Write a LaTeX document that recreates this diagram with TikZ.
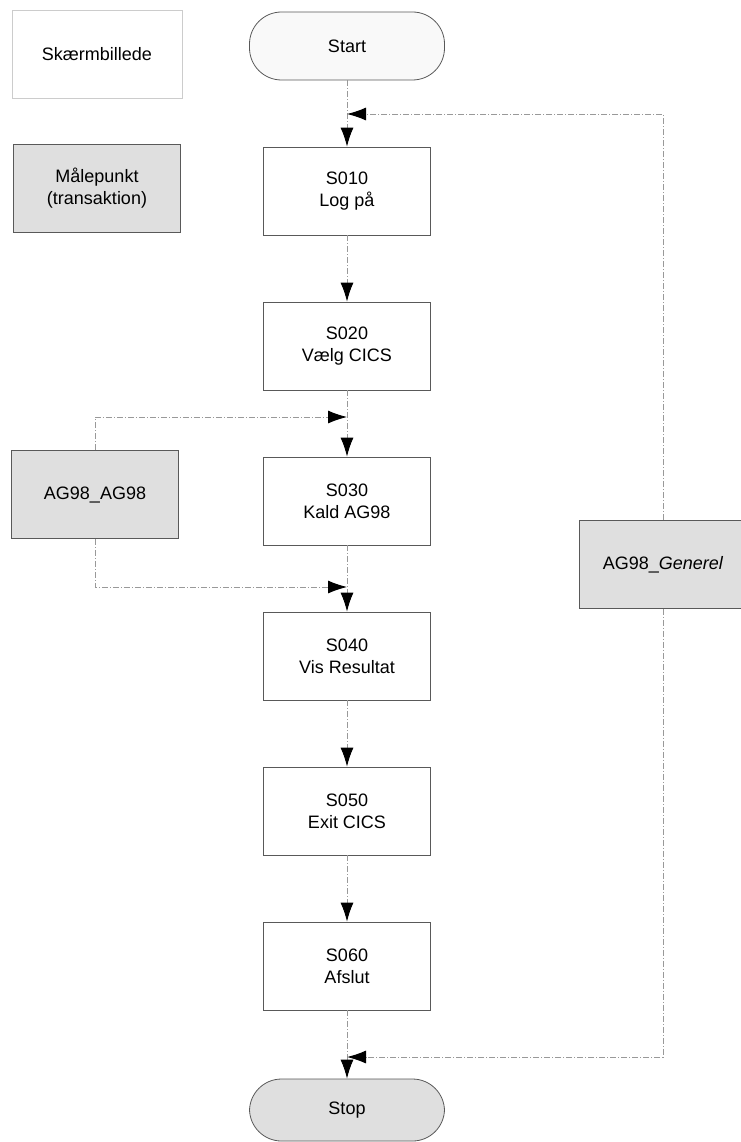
\documentclass[tikz,border=0pt]{standalone}
\usepackage{fontspec}
\setmainfont{Liberation Sans}
\usetikzlibrary{positioning,arrows.meta}

\begin{document}
\begin{tikzpicture}[x=1pt,y=1pt,node distance=155pt,on grid,
    every node/.style={font=\fontsize{18}{22}\selectfont,align=center},
    box/.style={draw=gray!70!black,line width=0.8pt,minimum width=167pt,minimum height=88pt},
    mark box/.style={box,fill=gray!25},
    terminal/.style={draw=gray!70!black,line width=0.8pt,minimum width=195pt,rounded corners=32pt},
    flow/.style={draw=gray!80,line width=0.9pt,dash pattern=on 6pt off 2pt on 1pt off 2pt,
      -{Latex[color=black,length=19pt,width=13pt]}}]
  \useasboundingbox (0,0) rectangle (740,-1142);
  \node[terminal, minimum height=68pt, fill=gray!5] (start) at (347,-46) {Start};
  \node[box, below=145pt of start] (s010) {S010\\Log på};
  \node[box, below=of s010] (s020) {S020\\Vælg CICS};
  \node[box, below=of s020] (s030) {S030\\Kald AG98};
  \node[box, below=of s030] (s040) {S040\\Vis Resultat};
  \node[box, below=of s040] (s050) {S050\\Exit CICS};
  \node[box, below=of s050] (s060) {S060\\Afslut};
  \node[terminal, minimum height=62pt, fill=gray!25, below=144pt of s060] (stop) {Stop};
  \node[box, draw=gray!40, minimum width=170pt] (screen) at (97,-54) {Skærmbillede};
  \node[mark box, below=134.5pt of screen] (meas) {Målepunkt\\(transaktion)};
  \node[mark box] (ag98) at (95,-494.5) {AG98\_AG98};
  \node[mark box] (generel) at (663,-564.5) {AG98\_\textit{Generel}};
  \coordinate (in1) at (347,-114);
  \coordinate (in3) at (347,-417);
  \coordinate (in4) at (347,-587);
  \coordinate (instop) at (347,-1057);
  \path[flow] (start) -- (s010);
  \path[flow] (s010) -- (s020);
  \path[flow] (s020) -- (s030);
  \path[flow] (s030) -- (s040);
  \path[flow] (s040) -- (s050);
  \path[flow] (s050) -- (s060);
  \path[flow] (s060) -- (stop);
  \path[flow] (ag98.north) |- (in3);
  \path[flow] (ag98.south) |- (in4);
  \path[flow] (generel.north) |- (in1);
  \path[flow] (generel.south) |- (instop);
\end{tikzpicture}
\end{document}
